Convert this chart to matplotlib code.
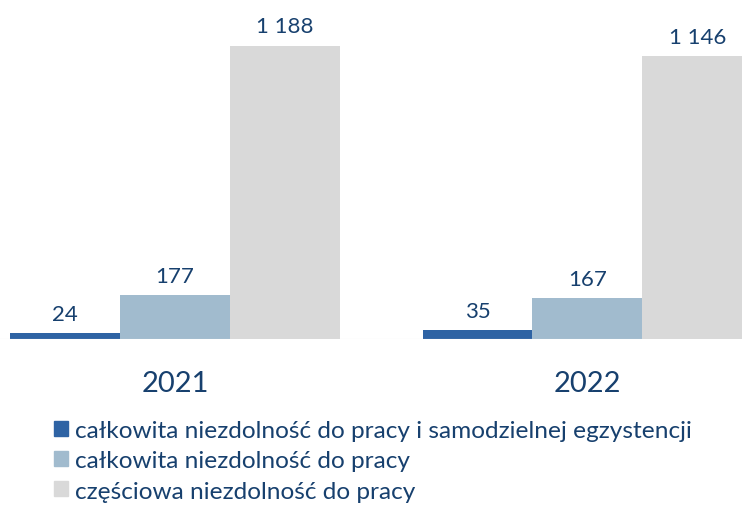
import matplotlib.pyplot as plt
import numpy as np
from matplotlib.patches import Patch

plt.rcParams['font.family'] = ['Lato', 'DejaVu Sans']

years = ['2021', '2022']
series_names = ['całkowita niezdolność do pracy i samodzielnej egzystencji',
                'całkowita niezdolność do pracy',
                'częściowa niezdolność do pracy']
values = [[24, 35],
          [177, 167],
          [1188, 1146]]
colors = ['#2E63A4', '#A1BBCE', '#D9D9D9']
text_color = '#17406E'

fig = plt.figure(figsize=(7.42, 5.06), dpi=100)
ax = fig.add_axes([0, 166 / 506, 1, 321 / 506])

x = np.arange(len(years))
w = 0.8 / 3
for i, (name, vals) in enumerate(zip(series_names, values)):
    bars = ax.bar(x + (i - 1) * w, vals, w, color=colors[i], label=name)
    for b, v in zip(bars, vals):
        lbl = f'{v:,}'.replace(',', ' ')
        ax.annotate(lbl, (b.get_x() + b.get_width() / 2, b.get_height()),
                    xytext=(0, 9.5), textcoords='offset points',
                    ha='center', va='baseline', fontsize=16, color=text_color)

# one unit = 412.5 px, first bar edge at 10 px
left = -0.4 - 10 / 412.5
ax.set_xlim(left, left + 742 / 412.5)
ax.set_ylim(0, 1300)
ax.axhline(0, color='#E6E6E6', lw=0.8, xmin=0, xmax=1)

ax.set_xticks(x)
ax.set_xticklabels(years, fontsize=21, color=text_color)
ax.tick_params(axis='x', length=0, pad=22)
ax.set_yticks([])
for s in ax.spines.values():
    s.set_visible(False)

handles = [Patch(color=c) for c in colors]
fig.legend(handles, series_names, loc='upper left', bbox_to_anchor=(54 / 742, 1 - 421 / 506),
           frameon=False, fontsize=17.6, labelcolor=text_color,
           handlelength=0.57, handleheight=0.57, handletextpad=0.29, labelspacing=0.38,
           borderaxespad=0, borderpad=0)

fig.savefig('out.png', dpi=100)
